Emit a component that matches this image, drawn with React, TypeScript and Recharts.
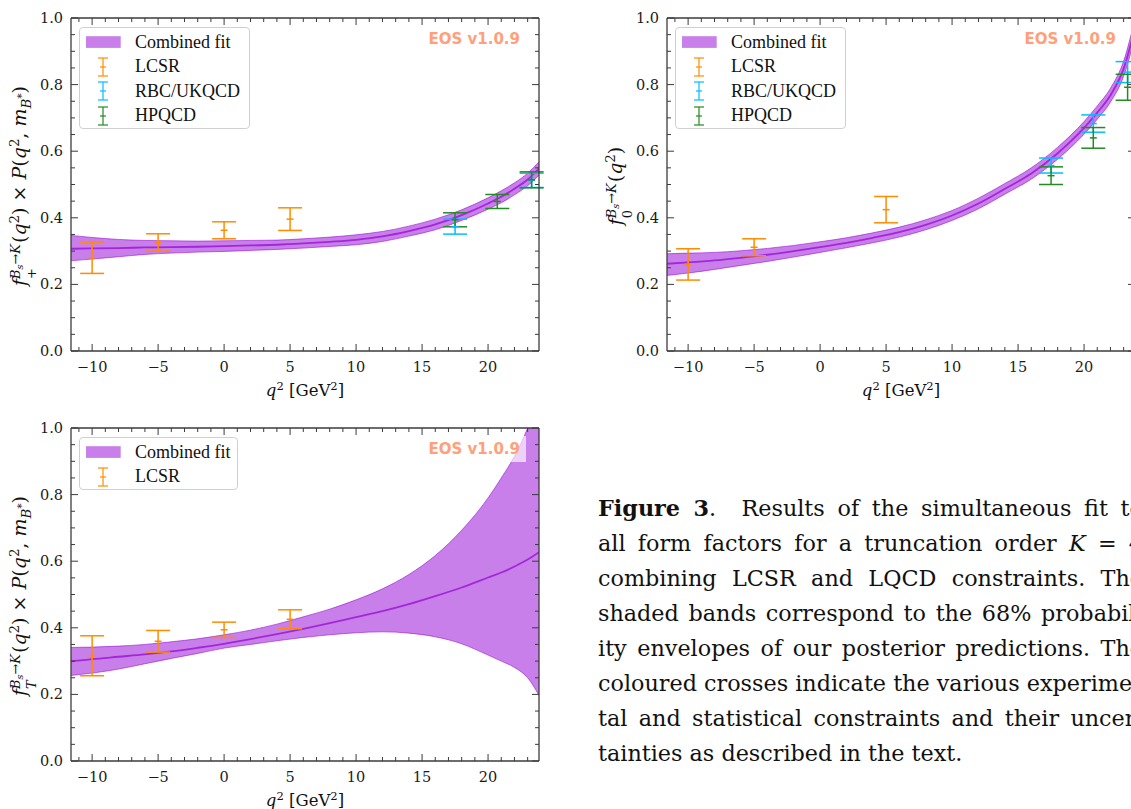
import React from "react";
import {
  ComposedChart,
  Area,
  Line,
  Scatter,
  ErrorBar,
  XAxis,
  YAxis,
  Legend,
} from "recharts";

// q^2 grid of the fit bands (GeV^2)
const bandQ = [-11.6, -10, -8, -6, -4, -2, 0, 2, 4, 6, 8, 10, 12, 14, 16, 18, 20, 21, 22, 23, 23.86];

// f+ x P band
const fpMid = [0.307, 0.308, 0.309, 0.311, 0.312, 0.313, 0.315, 0.317, 0.319, 0.323, 0.328, 0.334, 0.344, 0.36, 0.38, 0.408, 0.443, 0.463, 0.487, 0.515, 0.548];
const fpHi = [0.347, 0.341, 0.335, 0.332, 0.331, 0.33, 0.331, 0.332, 0.333, 0.337, 0.342, 0.349, 0.359, 0.375, 0.396, 0.424, 0.46, 0.481, 0.505, 0.534, 0.568];
const fpLo = [0.271, 0.276, 0.283, 0.29, 0.294, 0.297, 0.299, 0.302, 0.305, 0.309, 0.314, 0.319, 0.329, 0.345, 0.364, 0.392, 0.426, 0.445, 0.469, 0.496, 0.528];

// f0 band
const f0Mid = [0.262, 0.266, 0.272, 0.28, 0.289, 0.3, 0.312, 0.325, 0.34, 0.357, 0.379, 0.407, 0.443, 0.487, 0.533, 0.594, 0.67, 0.716, 0.768, 0.848, 0.97];
const f0Hi = [0.292, 0.294, 0.296, 0.301, 0.308, 0.317, 0.328, 0.34, 0.355, 0.372, 0.394, 0.422, 0.459, 0.503, 0.55, 0.612, 0.689, 0.736, 0.789, 0.871, 0.997];
const f0Lo = [0.227, 0.234, 0.245, 0.257, 0.269, 0.282, 0.296, 0.31, 0.325, 0.342, 0.364, 0.392, 0.427, 0.471, 0.516, 0.576, 0.651, 0.696, 0.747, 0.825, 0.943];

// fT x P band
const ftMid = [0.299, 0.306, 0.313, 0.32, 0.329, 0.34, 0.352, 0.366, 0.381, 0.397, 0.414, 0.432, 0.45, 0.471, 0.495, 0.521, 0.551, 0.566, 0.584, 0.605, 0.627];
const ftHi = [0.341, 0.342, 0.345, 0.35, 0.358, 0.367, 0.379, 0.393, 0.411, 0.433, 0.456, 0.484, 0.517, 0.56, 0.617, 0.693, 0.79, 0.85, 0.915, 1.0, 1.09];
const ftLo = [0.257, 0.264, 0.276, 0.292, 0.308, 0.323, 0.339, 0.35, 0.361, 0.371, 0.379, 0.385, 0.388, 0.384, 0.373, 0.352, 0.318, 0.3, 0.281, 0.25, 0.197];

// constraints
const lcsrQ = [-10, -5, 0, 5];
const lcsrQ0 = [-10, -5, 5];
const lqcdQ = [17.5, 20.7, 23.3];
const rbcQPlus = [17.5, 23.3];

const fpLcsrVal = [0.28, 0.326, 0.3625, 0.396];
const fpLcsrErr = [0.047, 0.026, 0.0255, 0.034];
const fpRbcVal = [0.3735, 0.5125];
const fpRbcErr = [0.0225, 0.0215];
const fpHpqcdVal = [0.394, 0.449, 0.514];
const fpHpqcdErr = [0.021, 0.021, 0.024];

const f0LcsrVal = [0.26, 0.3115, 0.4245];
const f0LcsrErr = [0.047, 0.0255, 0.0395];
const f0RbcVal = [0.557, 0.683, 0.8375];
const f0RbcErr = [0.0225, 0.026, 0.0315];
const f0HpqcdVal = [0.5265, 0.64, 0.792];
const f0HpqcdErr = [0.0265, 0.031, 0.039];

const ftLcsrVal = [0.316, 0.3595, 0.394, 0.4255];
const ftLcsrErr = [0.06, 0.0325, 0.023, 0.0285];

// axes
const X_DOMAIN = [-11.6, 23.86];
const xMajor = [-10, -5, 0, 5, 10, 15, 20];
const yMajor = [0, 0.2, 0.4, 0.6, 0.8, 1.0];
const xTicks = Array.from({ length: 35 }, (_, i) => i - 11);
const yTicks = Array.from({ length: 21 }, (_, i) => i / 20);

const PURPLE = "#9400D3";
const ORANGE = "#FF8C00";
const CYAN = "#00BFFF";
const GREEN = "#228B22";
const AXIS = "#3b3b3b";
const SERIF = "'DejaVu Serif', serif";
const LSERIF = "'Liberation Serif', serif";

const captionLines = [
  <>
    <b>Figure 3</b>.{"\u00a0 "}Results of the simultaneous fit to
  </>,
  <>
    all form factors for a truncation order <i>K</i> = 4
  </>,
  <>combining LCSR and LQCD constraints. The</>,
  <>shaded bands correspond to the 68% probabil-</>,
  <>ity envelopes of our posterior predictions. The</>,
  <>coloured crosses indicate the various experimen-</>,
  <>tal and statistical constraints and their uncer-</>,
  <>tainties as described in the text.</>,
];

type Series = { name: string; q: number[]; v: number[]; err: number[]; color: string };
type LegendItem = { label: string; kind: "band" | "err"; color: string };

const spine = { stroke: AXIS, strokeWidth: 1.3 };

function XTick(props: any) {
  const { x, y, payload, side } = props;
  const v = payload.value;
  const major = xMajor.includes(v);
  const len = major ? 7 : 4;
  const dir = side === "b" ? -1 : 1;
  return (
    <g>
      <line x1={x} x2={x} y1={y} y2={y + dir * len} stroke={AXIS} strokeWidth={1} />
      {side === "b" && major && (
        <text x={x} y={y + 21} textAnchor="middle" fontFamily={SERIF} fontSize={14.5} fill="#1a1a1a">
          {v < 0 ? "\u2212" + Math.abs(v) : String(v)}
        </text>
      )}
    </g>
  );
}

function YTick(props: any) {
  const { x, y, payload, side } = props;
  const v = payload.value;
  const major = yMajor.some((m) => Math.abs(m - v) < 1e-6);
  const len = major ? 7 : 4;
  const dir = side === "l" ? 1 : -1;
  return (
    <g>
      <line x1={x} x2={x + dir * len} y1={y} y2={y} stroke={AXIS} strokeWidth={1} />
      {side === "l" && major && (
        <text x={x - 8} y={y + 5} textAnchor="end" fontFamily={SERIF} fontSize={14.5} fill="#1a1a1a">
          {v.toFixed(1)}
        </text>
      )}
    </g>
  );
}

function LegendBox({ items, width }: { items: LegendItem[]; width: number }) {
  return (
    <div
      style={{
        width,
        boxSizing: "border-box",
        border: "1px solid #d0d0d0",
        borderRadius: 4,
        background: "rgba(255,255,255,0.8)",
        padding: "2px 0 0 0",
        fontFamily: LSERIF,
        fontSize: 18,
        color: "#111",
      }}
    >
      {items.map((it) => (
        <div key={it.label} style={{ height: 24.5, display: "flex", alignItems: "center" }}>
          <svg width={55} height={24} style={{ flex: "none" }}>
            {it.kind === "band" ? (
              <rect x={6} y={6.2} width={34.7} height={11.7} fill={PURPLE} fillOpacity={0.5} />
            ) : (
              <g stroke={it.color} strokeWidth={1.5} strokeOpacity={0.8}>
                <line x1={23} x2={23} y1={3} y2={21} />
                <line x1={18} x2={28} y1={3} y2={3} />
                <line x1={18} x2={28} y1={21} y2={21} />
                <line x1={20} x2={26} y1={12} y2={12} />
              </g>
            )}
          </svg>
          <span style={{ whiteSpace: "nowrap" }}>{it.label}</span>
        </div>
      ))}
    </div>
  );
}

function YLabel({ sub, full }: { sub: React.ReactNode; full: boolean }) {
  return (
    <div
      style={{
        position: "absolute",
        left: 24,
        top: 186,
        transform: "translate(-50%, -50%) rotate(-90deg)",
        whiteSpace: "nowrap",
        fontFamily: SERIF,
        fontSize: 19,
        lineHeight: 1,
        color: "#111",
      }}
    >
      <i>f</i>
      <span
        style={{
          display: "inline-flex",
          flexDirection: "column",
          verticalAlign: "0.5em",
          fontSize: "0.68em",
          lineHeight: 1.25,
          marginRight: 1,
        }}
      >
        <span>
          <i>B</i>
          <i style={{ fontSize: "0.75em", position: "relative", top: "0.3em" }}>s</i>
          {"\u2192"}
          <i>K</i>
        </span>
        <span>{sub}</span>
      </span>
      (<i>q</i>
      <sup style={{ fontSize: "0.7em" }}>2</sup>)
      {full && (
        <>
          {" \u00d7 "}
          <i>P</i>(<i>q</i>
          <sup style={{ fontSize: "0.7em" }}>2</sup>, <i>m</i>
          <sub style={{ fontSize: "0.7em" }}>
            <i>B</i>
            <sup style={{ fontSize: "0.8em" }}>*</sup>
          </sub>
          )
        </>
      )}
    </div>
  );
}

function Panel({
  left,
  top,
  mid,
  lo,
  hi,
  series,
  legend,
  legendWidth,
  ylabel,
}: {
  left: number;
  top: number;
  mid: number[];
  lo: number[];
  hi: number[];
  series: Series[];
  legend: LegendItem[];
  legendWidth: number;
  ylabel: React.ReactNode;
}) {
  const band = bandQ.map((q, i) => ({ q, mid: mid[i], lo: lo[i], hi: hi[i], range: [lo[i], hi[i]] }));
  return (
    <div style={{ position: "absolute", left, top, width: 560, height: 405 }}>
      <ComposedChart width={560} height={405} margin={{ top: 17, right: 20, bottom: 53, left: 0 }}>
        <XAxis
          xAxisId="b"
          dataKey="q"
          type="number"
          domain={X_DOMAIN}
          allowDataOverflow
          ticks={xTicks}
          interval={0}
          height={1}
          tickSize={0}
          tickMargin={0}
          tickLine={false}
          axisLine={spine}
          tick={(p: any) => <XTick {...p} side="b" />}
        />
        <XAxis
          xAxisId="t"
          orientation="top"
          dataKey="q"
          type="number"
          domain={X_DOMAIN}
          allowDataOverflow
          ticks={xTicks}
          interval={0}
          height={1}
          tickSize={0}
          tickMargin={0}
          tickLine={false}
          axisLine={spine}
          tick={(p: any) => <XTick {...p} side="t" />}
        />
        <YAxis
          yAxisId="l"
          type="number"
          domain={[0, 1]}
          allowDataOverflow
          ticks={yTicks}
          interval={0}
          width={71}
          tickSize={0}
          tickMargin={0}
          tickLine={false}
          axisLine={spine}
          tick={(p: any) => <YTick {...p} side="l" />}
        />
        <YAxis
          yAxisId="r"
          orientation="right"
          type="number"
          domain={[0, 1]}
          allowDataOverflow
          ticks={yTicks}
          interval={0}
          width={1}
          tickSize={0}
          tickMargin={0}
          tickLine={false}
          axisLine={spine}
          tick={(p: any) => <YTick {...p} side="r" />}
        />
        <Area
          xAxisId="b"
          yAxisId="l"
          data={band}
          dataKey="range"
          type="monotone"
          fill={PURPLE}
          fillOpacity={0.5}
          stroke="none"
          isAnimationActive={false}
        />
        <Line xAxisId="b" yAxisId="l" data={band} dataKey="hi" type="monotone" stroke={PURPLE} strokeOpacity={0.55} strokeWidth={1} dot={false} isAnimationActive={false} />
        <Line xAxisId="b" yAxisId="l" data={band} dataKey="lo" type="monotone" stroke={PURPLE} strokeOpacity={0.55} strokeWidth={1} dot={false} isAnimationActive={false} />
        <Line xAxisId="b" yAxisId="l" data={band} dataKey="mid" type="monotone" stroke={PURPLE} strokeOpacity={0.7} strokeWidth={1.8} dot={false} isAnimationActive={false} />
        {series.map((s) => (
          <Scatter
            key={s.name}
            xAxisId="b"
            yAxisId="l"
            data={s.q.map((q, i) => ({ q, v: s.v[i], err: s.err[i] }))}
            dataKey="v"
            isAnimationActive={false}
            shape={(p: any) => (
              <line x1={p.cx - 3.5} x2={p.cx + 3.5} y1={p.cy} y2={p.cy} stroke={s.color} strokeWidth={1.5} />
            )}
          >
            <ErrorBar dataKey="err" direction="y" width={12} stroke={s.color} strokeWidth={1.5} isAnimationActive={false} />
          </Scatter>
        ))}
        <Legend
          layout="vertical"
          align="center"
          verticalAlign="middle"
          wrapperStyle={{ left: 79, top: 27, width: legendWidth }}
          content={<LegendBox items={legend} width={legendWidth} />}
        />
      </ComposedChart>
      <div
        style={{
          position: "absolute",
          right: 34,
          top: 26,
          height: 26,
          lineHeight: "26px",
          padding: "0 6px 0 60px",
          background: "rgba(255,255,255,0.65)",
          fontFamily: "'DejaVu Sans', sans-serif",
          fontWeight: "bold",
          fontSize: 15,
          color: "#FFA07A",
          whiteSpace: "nowrap",
        }}
      >
        EOS v1.0.9
      </div>
      {ylabel}
      <div
        style={{
          position: "absolute",
          left: 305,
          top: 390,
          transform: "translate(-50%, -50%)",
          fontFamily: SERIF,
          fontSize: 16.5,
          lineHeight: 1,
          whiteSpace: "nowrap",
          color: "#111",
        }}
      >
        <i>q</i>
        <sup style={{ fontSize: "0.7em" }}>2</sup> [GeV<sup style={{ fontSize: "0.7em" }}>2</sup>]
      </div>
    </div>
  );
}

const fullLegend: LegendItem[] = [
  { label: "Combined fit", kind: "band", color: PURPLE },
  { label: "LCSR", kind: "err", color: ORANGE },
  { label: "RBC/UKQCD", kind: "err", color: CYAN },
  { label: "HPQCD", kind: "err", color: GREEN },
];

export default function App() {
  return (
    <div
      style={{
        position: "absolute",
        left: 0,
        top: 0,
        width: 1131,
        height: 809,
        overflow: "hidden",
        background: "#fff",
      }}
    >
      <Panel
        left={0}
        top={0}
        mid={fpMid}
        lo={fpLo}
        hi={fpHi}
        series={[
          { name: "LCSR", q: lcsrQ, v: fpLcsrVal, err: fpLcsrErr, color: ORANGE },
          { name: "RBC/UKQCD", q: rbcQPlus, v: fpRbcVal, err: fpRbcErr, color: CYAN },
          { name: "HPQCD", q: lqcdQ, v: fpHpqcdVal, err: fpHpqcdErr, color: GREEN },
        ]}
        legend={fullLegend}
        legendWidth={171}
        ylabel={<YLabel sub="+" full />}
      />
      <Panel
        left={596}
        top={0}
        mid={f0Mid}
        lo={f0Lo}
        hi={f0Hi}
        series={[
          { name: "LCSR", q: lcsrQ0, v: f0LcsrVal, err: f0LcsrErr, color: ORANGE },
          { name: "RBC/UKQCD", q: lqcdQ, v: f0RbcVal, err: f0RbcErr, color: CYAN },
          { name: "HPQCD", q: lqcdQ, v: f0HpqcdVal, err: f0HpqcdErr, color: GREEN },
        ]}
        legend={fullLegend}
        legendWidth={171}
        ylabel={<YLabel sub="0" full={false} />}
      />
      <Panel
        left={0}
        top={410}
        mid={ftMid}
        lo={ftLo}
        hi={ftHi}
        series={[{ name: "LCSR", q: lcsrQ, v: ftLcsrVal, err: ftLcsrErr, color: ORANGE }]}
        legend={fullLegend.slice(0, 2)}
        legendWidth={159}
        ylabel={<YLabel sub={<i>T</i>} full />}
      />
      <div
        style={{
          position: "absolute",
          left: 598,
          top: 491,
          fontFamily: SERIF,
          fontSize: 22.3,
          lineHeight: "35px",
          color: "#111",
        }}
      >
        {captionLines.map((l, i) => (
          <div
            key={i}
            style={{
              width: 545,
              whiteSpace: "nowrap",
              textAlign: "justify",
              textAlignLast: i < captionLines.length - 1 ? "justify" : "left",
            }}
          >
            {l}
          </div>
        ))}
      </div>
    </div>
  );
}
